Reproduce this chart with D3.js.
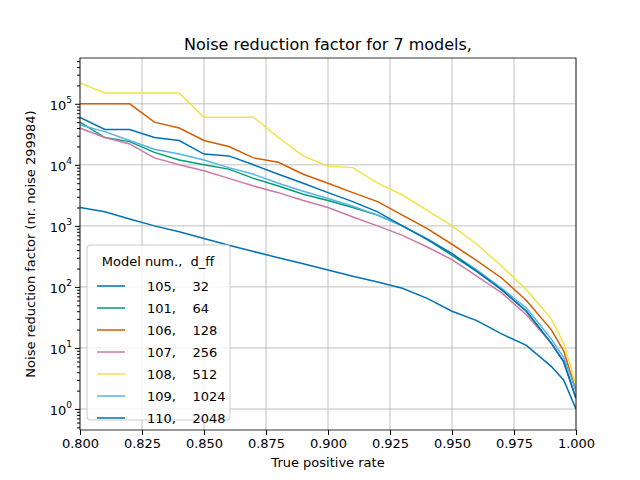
<!DOCTYPE html>
<html><head><meta charset="utf-8">
<script src="https://cdn.jsdelivr.net/npm/d3@7"></script>
<style>body{margin:0;background:#fff}text{font-family:"DejaVu Sans",sans-serif}</style>
</head><body><svg id="c" width="640" height="480"></svg>
<script>
// true positive rate grid
var tpr = [0.8,0.81,0.82,0.83,0.84,0.85,0.86,0.87,0.88,0.89,0.9,0.91,0.92,0.93,0.94,0.95,0.96,0.97,0.98,0.99,0.995,1.0];
var m105 = [2000,1700,1300,1000,800,620,480,380,300,240,190,150,120,95,65,40,28,17,11,5,3,1];
var m101 = [50000,28000,24000,16000,12000,10000,8500,6000,4500,3300,2600,2000,1500,1000,600,330,180,90,40,12,6,1.5];
var m106 = [100000,100000,100000,50000,40000,25000,20000,13000,11000,7000,5000,3500,2500,1500,900,500,270,140,60,20,9,2];
var m107 = [40000,28000,22000,13000,10000,8000,6000,4500,3500,2600,2000,1400,1000,700,450,280,150,80,35,12,6,1.5];
var m108 = [220000,150000,150000,150000,150000,60000,60000,60000,28000,14000,9500,9000,5000,3200,1800,1000,500,220,90,30,12,2.5];
var m109 = [45000,35000,25000,18000,15000,12000,9000,7000,5000,3700,2800,2100,1500,1000,620,350,190,95,45,14,7,2];
var m110 = [60000,38000,38000,28000,25000,15000,14000,10000,7000,5000,3500,2500,1700,1000,600,350,180,90,40,12,6,1.5];
var names = ["105,    32","101,    64","106,    128","107,    256","108,    512","109,    1024","110,    2048"];
var colors = ["#0072B2","#009E73","#D55E00","#CC79A7","#F0E442","#56B4E9","#0072B2"];
var series = [m105,m101,m106,m107,m108,m109,m110];

var svg = d3.select("#c");
var L=80,R=576,T=58,B=430;
var FS = 13;
var x = d3.scaleLinear().domain([0.8,1.0]).range([L,R]);
var y = d3.scaleLog().domain([Math.pow(10,-0.344),Math.pow(10,5.75)]).range([B,T]);

// grid
var xt = d3.range(0.8,1.0001,0.025);
svg.append("g").selectAll("line").data(xt).join("line")
  .attr("x1",d=>x(d)).attr("x2",d=>x(d)).attr("y1",T).attr("y2",B).attr("stroke","#b0b0b0").attr("stroke-width",0.8);
var yt = [1,10,100,1000,10000,100000];
svg.append("g").selectAll("line").data(yt).join("line")
  .attr("x1",L).attr("x2",R).attr("y1",d=>y(d)).attr("y2",d=>y(d)).attr("stroke","#b0b0b0").attr("stroke-width",0.8);

var line = d3.line().x((d,i)=>x(tpr[i])).y(d=>y(d));
svg.append("clipPath").attr("id","cp").append("rect").attr("x",L).attr("y",T).attr("width",R-L).attr("height",B-T);
svg.append("g").attr("clip-path","url(#cp)").selectAll("path").data(series).join("path")
  .attr("d",line).attr("fill","none").attr("stroke",(d,i)=>colors[i]).attr("stroke-width",1.5);

// axes
svg.append("g").attr("transform","translate(0,"+B+")")
  .call(d3.axisBottom(x).tickValues(xt).tickFormat(d3.format(".3f")).tickSizeOuter(0).tickSize(5).tickPadding(4));
var minor = [];
for (var e=-1;e<6;e++) for (var k=2;k<10;k++){var v=k*Math.pow(10,e); if(v>y.domain()[0]&&v<y.domain()[1]) minor.push(v);}
svg.append("g").attr("transform","translate("+L+",0)")
  .call(d3.axisLeft(y).tickValues(minor).tickFormat("").tickSize(3).tickSizeOuter(0));
var ya = svg.append("g").attr("transform","translate("+L+",0)")
  .call(d3.axisLeft(y).tickValues(yt).tickFormat("").tickSize(5).tickSizeOuter(0));
ya.selectAll(".tick").append("text").attr("x",-8).attr("dy","0.42em").attr("text-anchor","end")
  .attr("fill","#000").attr("font-size",FS).html(d=>"10<tspan dy='-7' font-size='9'>"+Math.round(Math.log10(d))+"</tspan>");
svg.selectAll(".domain").remove();
svg.selectAll(".tick text").attr("font-size",FS);
svg.append("rect").attr("x",L).attr("y",T).attr("width",R-L).attr("height",B-T).attr("fill","none").attr("stroke","#000").attr("stroke-width",0.8);

svg.append("text").attr("x",(L+R)/2).attr("y",50).attr("text-anchor","middle").attr("font-size",16).text("Noise reduction factor for 7 models,");
svg.append("text").attr("x",(L+R)/2).attr("y",467).attr("text-anchor","middle").attr("font-size",FS).text("True positive rate");
svg.append("text").attr("transform","translate(35,"+(T+B)/2+") rotate(-90)").attr("text-anchor","middle").attr("font-size",FS).text("Noise reduction factor (nr. noise 299984)");

// legend
var lg = svg.append("g");
lg.append("rect").attr("x",87).attr("y",245).attr("width",143).attr("height",175).attr("rx",3)
  .attr("fill","#fff").attr("fill-opacity",0.8).attr("stroke","#ccc");
lg.append("text").attr("x",158).attr("y",266).attr("text-anchor","middle").attr("font-size",FS).attr("xml:space","preserve").text("Model num.,  d_ff");
names.forEach(function(n,i){
  var yy = 286+i*22;
  lg.append("line").attr("x1",97).attr("x2",125).attr("y1",yy).attr("y2",yy).attr("stroke",colors[i]).attr("stroke-width",1.5);
  lg.append("text").attr("x",147).attr("y",yy+5).attr("font-size",FS).attr("xml:space","preserve").text(n);
});
</script></body></html>
